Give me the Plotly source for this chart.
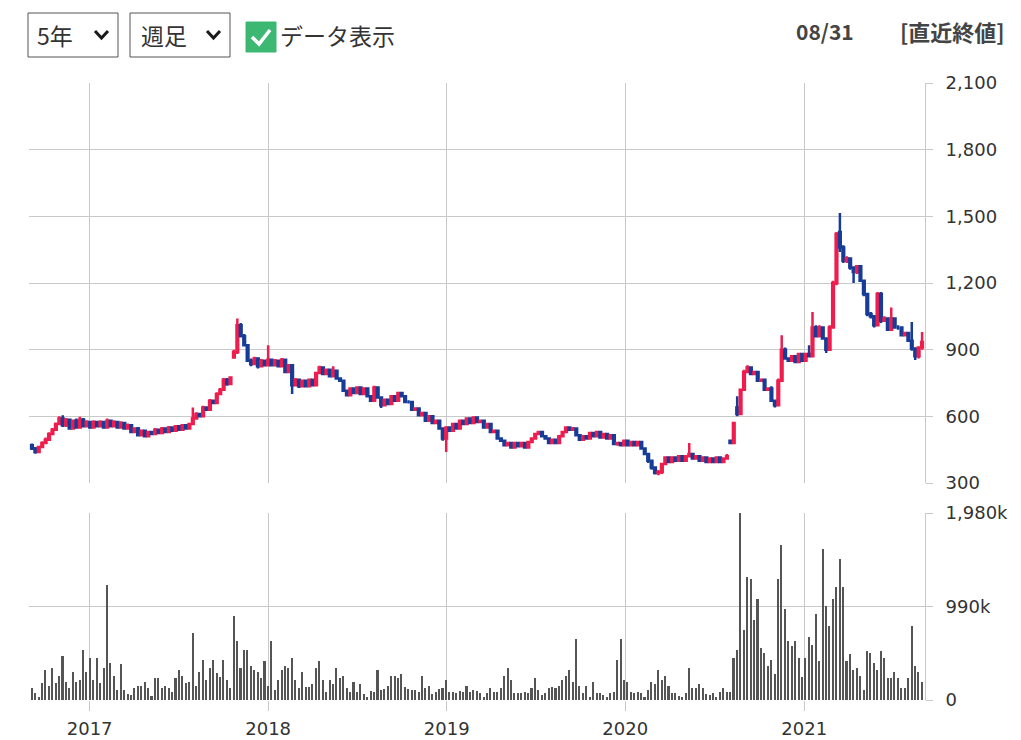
import plotly.graph_objects as go
import pandas as pd

# ---------------- data (weekly, 2016-09 .. 2021-08) ----------------
dates = pd.date_range("2016-09-05", periods=261, freq="7D")

opens = [
    470,455,440,462,480,495,520,540,565,590,
    560,585,545,580,550,585,555,575,550,575,
    555,575,550,580,555,575,550,570,545,560,
    530,545,515,535,510,530,520,540,525,545,
    530,550,535,555,540,560,545,565,590,610,
    600,640,630,670,660,700,720,765,745,865,
    890,1010,960,920,850,835,860,825,850,830,
    855,830,850,825,855,800,830,740,765,735,
    760,735,765,740,795,820,790,810,780,805,
    770,760,715,695,725,705,730,700,725,690,
    670,730,685,650,675,655,690,670,705,690,
    665,665,630,635,605,615,580,600,570,580,
    545,500,550,535,565,545,580,565,590,570,
    595,575,580,550,565,530,535,500,490,470,
    480,460,480,465,480,460,485,500,520,530,
    510,500,480,495,480,510,530,550,540,545,
    515,495,510,500,525,510,530,505,520,500,
    515,475,480,470,490,470,485,470,485,455,
    430,400,370,345,350,385,415,395,415,400,
    420,400,420,430,410,420,400,415,395,410,
    395,415,395,410,490,480,640,610,720,800,
    820,790,800,760,765,720,725,670,650,760,
    900,860,850,870,845,880,850,880,870,1000,
    960,1000,950,900,1000,1200,1430,1360,1300,1310,
    1270,1250,1275,1210,1150,1060,1050,1010,1150,1030,
    1040,990,1040,1000,1000,965,975,940,905,870,
    910,
]
highs = [
    478,462,468,488,505,528,548,572,600,605,
    592,590,585,590,598,592,582,580,582,580,
    582,580,590,585,582,580,578,575,568,565,
    550,552,540,540,535,535,548,545,552,548,
    556,555,560,560,566,565,570,640,618,615,
    648,645,678,675,708,728,772,772,780,900,
    1040,1020,970,925,860,868,865,858,855,920,
    860,858,856,862,860,835,835,772,770,765,
    765,770,770,800,828,822,815,815,825,810,
    775,765,720,730,730,735,735,730,728,695,
    738,735,690,680,678,695,695,710,710,695,
    672,668,640,640,620,618,605,605,585,582,
    550,555,555,570,568,585,585,595,592,600,
    598,585,582,568,568,540,538,505,492,485,
    482,485,482,485,482,488,505,525,535,532,
    512,502,498,498,515,535,555,555,552,548,
    518,512,512,530,528,532,532,522,522,518,
    518,485,484,492,492,488,488,488,488,458,
    435,402,372,358,390,420,418,418,418,422,
    422,422,480,432,422,422,418,418,412,412,
    418,418,412,430,495,575,690,725,810,830,
    825,805,802,770,768,730,735,675,770,965,
    910,865,875,875,885,885,885,920,1070,1010,
    1010,1005,955,1010,1210,1430,1515,1370,1320,1315,
    1275,1280,1278,1215,1155,1070,1055,1160,1160,1050,
    1045,1090,1045,1010,1005,980,978,1025,910,915,
    980,
]
lows = [
    448,432,436,458,475,490,515,535,560,552,
    552,540,540,545,545,550,550,545,546,550,
    550,545,545,550,550,545,546,540,540,525,
    525,510,510,505,505,515,515,520,520,525,
    525,530,530,535,535,540,540,560,585,595,
    595,625,625,655,655,695,715,738,740,860,
    880,955,915,845,825,830,815,820,825,825,
    825,825,820,820,795,795,700,735,728,730,
    730,730,735,735,790,785,785,775,775,765,
    755,710,690,690,700,700,695,695,685,665,
    665,680,637,645,650,650,665,665,685,660,
    658,625,625,600,600,575,575,565,565,540,
    490,440,530,530,540,540,560,560,565,565,
    570,570,545,545,525,525,495,485,465,465,
    455,455,460,460,455,455,480,495,515,505,
    495,475,475,475,475,505,525,535,535,510,
    490,490,495,495,505,505,500,500,495,495,
    470,468,465,465,465,465,465,465,450,425,
    390,360,338,335,340,380,390,390,395,395,
    395,395,415,405,405,395,395,390,390,390,
    390,390,390,405,475,475,600,605,715,795,
    785,785,755,755,715,715,665,640,645,755,
    855,845,845,840,840,845,845,865,865,955,
    955,945,885,895,995,1190,1340,1290,1290,1260,
    1200,1240,1205,1140,1050,1040,1000,1005,1020,1025,
    985,985,995,990,960,960,935,895,853,860,
    900,
]
closes = [
    455,440,462,480,495,520,540,565,590,560,
    585,545,580,550,585,555,575,550,575,555,
    575,550,580,555,575,550,570,545,560,530,
    545,515,535,510,530,520,540,525,545,530,
    550,535,555,540,560,545,565,590,610,600,
    640,630,670,660,700,720,765,745,775,890,
    1010,960,920,850,835,860,825,850,830,855,
    830,850,825,855,800,830,740,765,735,760,
    735,765,740,795,820,790,810,780,805,770,
    760,715,695,725,705,730,700,725,690,670,
    730,685,650,675,655,690,670,705,690,665,
    665,630,635,605,615,580,600,570,580,545,
    500,550,535,565,545,580,565,590,570,595,
    575,580,550,565,530,535,500,490,470,480,
    460,480,465,480,460,485,500,520,530,510,
    500,480,495,480,510,530,550,540,545,515,
    495,510,500,525,510,530,505,520,500,515,
    475,480,470,490,470,485,470,485,455,430,
    400,370,345,350,385,415,395,415,400,420,
    400,420,430,410,420,400,415,395,410,395,
    415,395,410,420,480,570,610,720,800,820,
    790,800,760,765,720,725,670,650,760,900,
    860,850,870,845,880,850,880,870,1000,960,
    1000,950,900,1000,1200,1420,1360,1300,1310,1270,
    1250,1275,1210,1150,1060,1050,1010,1150,1030,1040,
    990,1040,1000,1000,965,975,940,905,870,910,
    935,
]
volume_k = [
    124,71,35,177,320,150,337,177,255,468,
    195,124,300,195,213,532,300,450,213,450,
    177,344,1213,390,255,106,383,106,60,53,
    124,150,150,195,124,43,238,238,124,150,
    124,89,230,320,255,185,195,710,150,300,
    426,213,337,426,290,248,426,213,124,894,
    621,337,532,532,365,320,300,230,408,150,
    621,106,213,320,362,337,443,213,124,300,
    142,142,170,337,408,213,89,213,170,344,
    230,255,124,89,195,89,170,64,35,99,
    89,320,106,114,150,255,255,230,277,142,
    114,106,106,89,255,124,150,60,89,114,
    124,213,89,89,78,99,89,150,89,106,
    99,71,35,71,124,89,89,124,255,344,
    213,78,71,71,89,71,124,230,106,53,
    78,124,135,124,150,213,255,320,195,646,
    150,71,150,35,195,71,78,53,35,78,
    89,426,646,213,195,89,78,89,78,35,
    106,195,167,320,213,255,150,78,71,43,
    35,71,344,124,124,167,124,64,53,78,
    35,89,124,89,89,450,532,1975,745,1302,
    1277,852,1071,550,497,362,426,277,1284,1639,
    965,621,575,621,450,248,450,663,585,915,
    408,1597,1000,788,1071,1199,1490,1199,408,490,
    320,344,255,106,514,497,390,320,514,450,
    230,230,300,230,124,124,230,788,362,300,
    195,
]
volumes = [v * 1000 for v in volume_k]

year_ticks = ["2017-01-01", "2018-01-01", "2019-01-01", "2020-01-01", "2021-01-01"]
year_labels = ["2017", "2018", "2019", "2020", "2021"]
price_ticks = [300, 600, 900, 1200, 1500, 1800, 2100]
price_labels = ["300", "600", "900", "1,200", "1,500", "1,800", "2,100"]
vol_ticks = [0, 990000, 1980000]
vol_labels = ["0", "990k", "1,980k"]

# ---------------- styling ----------------
RED = "#ee1d4d"
BLUE = "#173c98"
GRID = "#c9c9c9"
TXT = "#333333"
FONT = "DejaVu Sans"
JP = "Noto Sans CJK JP"

W, H = 1021, 740
L, R, T, B = 29, 925, 83, 700


def px(x):
    return (x - L) / (R - L)


def py(y):
    return (B - y) / (B - T)


x_range = ["2016-08-30", "2021-09-05"]

fig = go.Figure()
fig.add_trace(go.Candlestick(
    x=dates, open=opens, high=highs, low=lows, close=closes,
    xaxis="x", yaxis="y",
    increasing=dict(line=dict(color=RED, width=2.5), fillcolor=RED),
    decreasing=dict(line=dict(color=BLUE, width=2.5), fillcolor=BLUE),
    whiskerwidth=0, showlegend=False, hoverinfo="skip",
))
fig.add_trace(go.Bar(
    x=dates, y=volumes, xaxis="x2", yaxis="y2",
    marker=dict(color="#555555", line=dict(width=0)),
    width=3.2 * 86400000, showlegend=False, hoverinfo="skip",
))

axis_common = dict(showgrid=True, gridcolor=GRID, gridwidth=1, zeroline=False,
                   automargin=False, fixedrange=True)

fig.update_layout(
    width=W, height=H, template="none",
    paper_bgcolor="white", plot_bgcolor="white",
    margin=dict(l=L, r=W - R, t=T, b=H - B, pad=0),
    showlegend=False, bargap=0,
    xaxis=dict(domain=[0, 1], anchor="y", type="date", range=x_range,
               rangeslider=dict(visible=False), tickvals=year_ticks,
               showticklabels=False, ticks="", showline=False, **axis_common),
    xaxis2=dict(domain=[0, 1], anchor="y2", type="date", range=x_range,
                tickvals=year_ticks, ticktext=year_labels, ticks="outside",
                ticklen=10, tickcolor=GRID, showline=False,
                tickfont=dict(family=FONT, size=18, color=TXT), **axis_common),
    yaxis=dict(domain=[py(483), 1], anchor="x", side="right", range=[300, 2100],
               tickvals=price_ticks, ticktext=price_labels, ticks="outside",
               ticklen=7, tickcolor=GRID, showline=True, linecolor=GRID,
               tickfont=dict(family=FONT, size=18, color=TXT), **axis_common),
    yaxis2=dict(domain=[0, py(513)], anchor="x2", side="right", range=[0, 1980000],
                tickvals=vol_ticks, ticktext=vol_labels, ticks="outside",
                ticklen=7, tickcolor=GRID, showline=True, linecolor=GRID,
                tickfont=dict(family=FONT, size=18, color=TXT), **axis_common),
)
fig.update_xaxes(ticklabelstandoff=2, selector=dict(anchor="y2"))
fig.update_yaxes(ticklabelstandoff=9)

# ---------------- header controls ----------------
shapes = []


def rect(x0, y0, x1, y1, **kw):
    shapes.append(dict(type="rect", xref="paper", yref="paper",
                       x0=px(x0), x1=px(x1), y0=py(y1), y1=py(y0), **kw))


def path(points, close=False, **kw):
    d = "M " + " L ".join(f"{px(a)},{py(b)}" for a, b in points)
    if close:
        d += " Z"
    shapes.append(dict(type="path", xref="paper", yref="paper", path=d, **kw))


rect(28, 13, 118, 57, line=dict(color="#555555", width=1), fillcolor="white")
rect(130, 13, 230, 57, line=dict(color="#555555", width=1), fillcolor="white")
path([(95, 31), (101.5, 38), (108, 31)], line=dict(color="#1a1a1a", width=3))
path([(207, 31), (213.5, 38), (220, 31)], line=dict(color="#1a1a1a", width=3))
rect(246, 22, 276, 52, line=dict(color="#3db873", width=1), fillcolor="#3db873")
path([(252, 37), (259, 44), (270, 30)], line=dict(color="white", width=3.5))

annotations = []


def text(x, y, s, size=23, bold=False, family=JP, color=TXT):
    annotations.append(dict(xref="paper", yref="paper", x=px(x), y=py(y),
                            xanchor="left", yanchor="middle", showarrow=False,
                            text=f"<b>{s}</b>" if bold else s,
                            font=dict(family=family, size=size, color=color)))


text(35, 35, "5年", size=23)
text(139, 35, "週足", size=23)
text(278, 35, "データ表示", size=23)
text(794, 31, "08/31", size=21, bold=True, color="#444444")
text(898, 31, "[直近終値]", size=22, bold=True, color="#444444")

fig.update_layout(shapes=shapes, annotations=annotations)

fig.write_html("out.html", config={"displayModeBar": False},
               post_script="document.body.style.margin='0';document.body.style.overflow='hidden';")
